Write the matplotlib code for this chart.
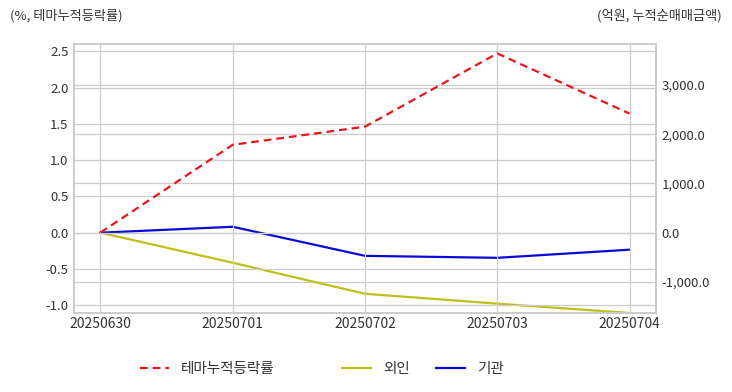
import numpy as np
import matplotlib
matplotlib.use('Agg')
import matplotlib.pyplot as plt
from matplotlib.ticker import FuncFormatter

plt.rcParams['font.family'] = ['Noto Sans CJK KR', 'DejaVu Sans']
plt.rcParams['axes.unicode_minus'] = False

# data
dates = ['20250630', '20250701', '20250702', '20250703', '20250704']
theme_rate = [0.0, 1.21, 1.46, 2.47, 1.64]        # %, left axis
foreign = [0.0, -610, -1240, -1440, -1630]        # 억원, right axis
institution = [0.0, 120, -470, -510, -345]        # 억원, right axis
labels = ['테마누적등락률', '외인', '기관']

grid_c = '#cccccc'
text_c = '#333333'

fig = plt.figure(figsize=(7.32, 3.92), dpi=100)
ax = fig.add_axes([74/732, 1 - 313/392, (656-74)/732, (313-44)/392])
ax2 = ax.twinx()

x = np.arange(len(dates))
l1, = ax.plot(x, theme_rate, color='#e8161b', linestyle='--', linewidth=1.6, dashes=(3.5, 2.2))
l2, = ax2.plot(x, foreign, color='#bfbf1a', linewidth=1.6)
l3, = ax2.plot(x, institution, color='#0a0ad8', linewidth=1.6)

ax.set_xlim(-0.2, 4.2)
ax.set_ylim(-1.11, 2.6)
ax.set_yticks([-1.0, -0.5, 0.0, 0.5, 1.0, 1.5, 2.0, 2.5])
ax.yaxis.set_major_formatter(FuncFormatter(lambda v, p: '%.1f' % v))
ax2.set_ylim(-1630, 3830)
ax2.set_yticks([-1000, 0, 1000, 2000, 3000])
ax2.yaxis.set_major_formatter(FuncFormatter(lambda v, p: '{:,.1f}'.format(v)))

ax.set_xticks(x)
ax.set_xticklabels(dates)

for a in (ax, ax2):
    a.grid(True, color=grid_c, linewidth=0.9)
    a.tick_params(length=0, labelsize=9.5, colors=text_c, pad=4)
    for s in a.spines.values():
        s.set_color(grid_c)
        s.set_linewidth(1.2)
ax2.grid(axis='x', visible=False)
ax.set_zorder(ax2.get_zorder() + 1)
ax.patch.set_visible(False)
ax.tick_params(axis='x', labelsize=10, pad=3)

fig.text(10/732, 1 - 16/392, '(%, 테마누적등락률)', fontsize=9.5, color=text_c, va='center', ha='left')
fig.text(722/732, 1 - 16/392, '(억원, 누적순매매금액)', fontsize=9.5, color=text_c, va='center', ha='right')

# legend entries placed one by one to match the uneven spacing
for h, lab, lx in zip([l1, l2, l3], labels, [140, 342, 436]):
    lg = fig.legend([h], [lab], loc='center left', bbox_to_anchor=(lx/732, 1 - 369/392),
                    frameon=False, fontsize=10.5, handlelength=2.0, handletextpad=0.8,
                    borderpad=0, borderaxespad=0, labelcolor=text_c)

fig.savefig('out.png', dpi=100)
